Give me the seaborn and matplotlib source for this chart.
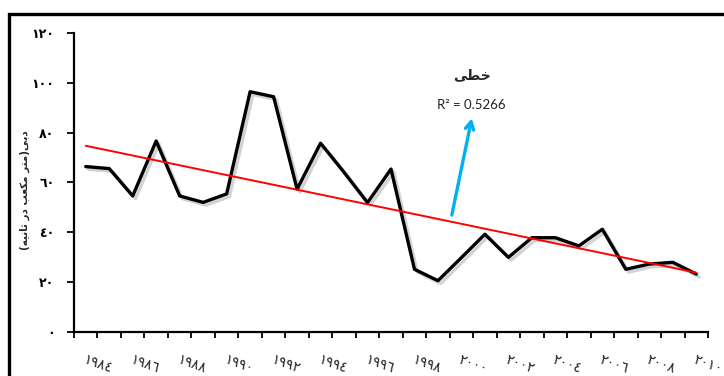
import numpy as np
import pandas as pd
import matplotlib
matplotlib.use("Agg")
import matplotlib.pyplot as plt
import matplotlib.patheffects as pe
from matplotlib.patches import Rectangle
import seaborn as sns

# Annual mean discharge (m^3/s), 1984-2010
years = list(range(1984, 2011))
flow = [66.4, 65.6, 54.6, 76.7, 54.6, 52.0, 55.4, 96.5, 94.5, 57.3,
        75.8, 64.1, 51.9, 65.4, 25.1, 20.5, 29.8, 39.2, 29.9, 37.8,
        37.8, 34.5, 41.2, 25.1, 27.2, 27.9, 23.2]
y_ticks = [0, 20, 40, 60, 80, 100, 120]
trend_name = "\uFEF0\uFEC4\uFEA7"          # خطی
r2_label = "R\u00b2 = 0.5266"
# دبی(متر مکعب در ثانیه) in shaped, visual order
y_title = ("(\uFEEA\uFEF4\uFEE7\uFE8E\uFE9B \uFEAD\uFEA9 "
           "\uFE90\uFECC\uFEDC\uFEE3 \uFEAE\uFE98\uFEE3)\uFEF0\uFE91\uFEA9")

AR_DIGITS = str.maketrans("0123456789", "\u0660\u0661\u0662\u0663\u0664\u0665\u0666\u0667\u0668\u0669")


def ar(n):
    return str(n).translate(AR_DIGITS)


df = pd.DataFrame({"idx": np.arange(len(years)), "year": years, "flow": flow})

sns.set_style("white")
plt.rcParams["font.family"] = ["DejaVu Sans"]

fig = plt.figure(figsize=(7.24, 3.76), dpi=100)
ax = fig.add_axes([74 / 724, 1 - 331.7 / 376, 634 / 724, 298.4 / 376])

sns.lineplot(data=df, x="idx", y="flow", ax=ax, color="black", lw=2.4,
             path_effects=[pe.SimpleLineShadow(offset=(2.0, -2.0), shadow_color="gray", alpha=0.35),
                           pe.Normal()])
sns.regplot(data=df, x="idx", y="flow", ax=ax, scatter=False, ci=None,
            line_kws={"color": "#ff0000", "lw": 1.4, "zorder": 5})

ax.set_xlim(-0.5, len(years) - 0.5)
ax.set_ylim(0, 120)

# category boundaries as ticks, labels every second year
ax.set_xticks(np.arange(-0.5, len(years), 1.0))
ax.set_xticklabels([])
even = [i for i, y in enumerate(years) if y % 2 == 0]
ax.set_xticks(even, minor=True)
ax.set_xticklabels([ar(years[i]) for i in even], minor=True, fontsize=10,
                   rotation=-20, rotation_mode="anchor", ha="left", va="top")
ax.tick_params(axis="x", which="major", direction="out", length=4, width=1.3,
               colors="black", bottom=True)
ax.tick_params(axis="x", which="minor", length=0, pad=15)

ax.set_yticks(y_ticks)
ax.set_yticklabels([ar(v) for v in y_ticks], fontsize=9, fontweight="bold")
ax.tick_params(axis="y", direction="out", length=5, width=1.3, colors="black",
               left=True, pad=9)

ax.set_xlabel("")
ax.set_ylabel(y_title, fontsize=7.5, fontweight="bold")
ax.yaxis.set_label_coords(-0.069, 0.475)

for side in ("top", "right"):
    ax.spines[side].set_visible(False)
for side in ("left", "bottom"):
    ax.spines[side].set_color("black")
    ax.spines[side].set_linewidth(1.6)

# trend annotation
ax.annotate("", xy=(16.44, 85.8), xytext=(15.59, 46.9),
            arrowprops=dict(arrowstyle="->,head_length=0.55,head_width=0.3",
                            color="#00b0f0", lw=2.4, shrinkA=0, shrinkB=0))
ax.text(16.44, 103.2, trend_name, fontsize=10, fontweight="bold",
        ha="center", va="center")
ax.text(16.44, 91.2, r2_label, fontsize=9.5, ha="center", va="center",
        family=["Lato", "DejaVu Sans"], color="#222222")

# outer frame
fig.patches.append(Rectangle((9 / 724, -0.1), 1.2, 1.1 - 14 / 376,
                             transform=fig.transFigure, fill=False,
                             ec="black", lw=2.4))

fig.savefig("out.png", dpi=100)
